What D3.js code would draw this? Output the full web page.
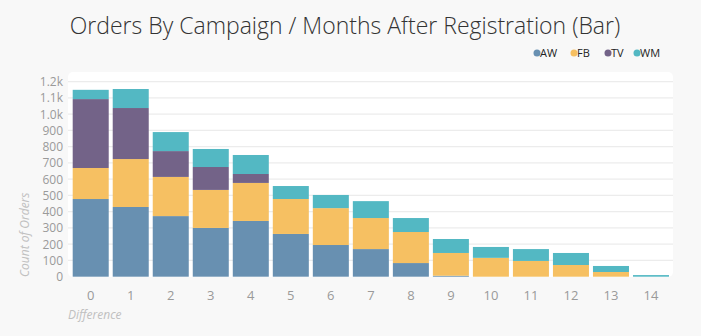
<!DOCTYPE html>
<html>
<head>
<meta charset="utf-8">
<script src="https://cdn.jsdelivr.net/npm/d3@7"></script>
<style>
  body { margin: 0; background: #f8f8f8; }
  svg { display: block; font-family: "Open Sans", sans-serif; }
</style>
</head>
<body>
<div id="chart"></div>
<script>
/* Stacked bars: orders by campaign per month after registration */

const months = ["0", "1", "2", "3", "4", "5", "6", "7", "8", "9", "10", "11", "12", "13", "14"];
const campaigns = ["AW", "FB", "TV", "WM"];
const aw = [478, 429, 373, 300, 343, 263, 195, 170, 84, 6, 0, 0, 0, 0, 0];
const fb = [191, 295, 241, 234, 234, 215, 227, 191, 191, 140, 116, 97, 72, 29, 0];
const tv = [424, 314, 159, 141, 55, 0, 0, 0, 0, 0, 0, 0, 0, 0, 0];
const wm = [57, 117, 117, 111, 117, 80, 81, 104, 86, 86, 67, 73, 74, 37, 10];
const yTicks = [0, 100, 200, 300, 400, 500, 600, 700, 800, 900, 1000, 1100, 1200];
const colors = ["#6890b1", "#f6c062", "#736388", "#53b8c3"];

const width = 701, height = 336;

const rows = months.map((m, i) => ({ month: m, AW: aw[i], FB: fb[i], TV: tv[i], WM: wm[i] }));
const series = d3.stack().keys(campaigns)(rows);

const x = d3.scaleBand()
    .domain(months)
    .range([70.7, 671])
    .paddingInner(0.1)
    .paddingOuter(0.05);

const y = d3.scaleLinear()
    .domain([0, 1200])
    .range([276.7, 81.7]);

const color = d3.scaleOrdinal().domain(campaigns).range(colors);

const svg = d3.select("#chart")
    .append("svg")
    .attr("width", width)
    .attr("height", height);

// title
svg.append("text")
    .attr("x", 345)
    .attr("y", 34)
    .attr("text-anchor", "middle")
    .attr("font-size", 23)
    .attr("font-weight", 300)
    .attr("fill", "#333")
    .text("Orders By Campaign / Months After Registration (Bar)");

// legend
const legendX = [537, 574, 608, 637];
const legend = svg.append("g")
    .selectAll("g")
    .data(campaigns)
    .join("g")
    .attr("transform", (d, i) => `translate(${legendX[i]},53)`);
legend.append("circle")
    .attr("r", 3.5)
    .attr("fill", d => color(d));
legend.append("text")
    .attr("x", 3)
    .attr("dy", "0.35em")
    .attr("font-size", 11)
    .attr("fill", "#222")
    .text(d => d);

// plot background
svg.append("rect")
    .attr("x", 68)
    .attr("y", 72)
    .attr("width", 605)
    .attr("height", 205)
    .attr("rx", 5)
    .attr("fill", "#fff");

// grid lines
svg.append("g")
    .selectAll("line")
    .data(yTicks.slice(1))
    .join("line")
    .attr("x1", 68)
    .attr("x2", 673)
    .attr("y1", d => y(d))
    .attr("y2", d => y(d))
    .attr("stroke", "#ececec")
    .attr("stroke-width", 1.2);

// bars
svg.append("g")
    .selectAll("g")
    .data(series)
    .join("g")
    .attr("fill", d => color(d.key))
    .selectAll("rect")
    .data(d => d.filter(s => s[1] > s[0]))
    .join("rect")
    .attr("x", d => x(d.data.month))
    .attr("width", x.bandwidth())
    .attr("y", d => y(d[1]))
    .attr("height", d => y(d[0]) - y(d[1]));

// y axis
const yAxis = svg.append("g")
    .attr("transform", "translate(65,0)")
    .call(d3.axisLeft(y).tickValues(yTicks).tickSize(0).tickPadding(2)
        .tickFormat(d => d >= 1000 ? d3.format(".1f")(d / 1000) + "k" : d));
yAxis.select(".domain").remove();
yAxis.selectAll("text")
    .attr("font-size", 12)
    .attr("font-family", "Open Sans, sans-serif")
    .attr("fill", "#9a9a9a");

// x axis
const xAxis = svg.append("g")
    .attr("transform", "translate(0,291)")
    .call(d3.axisBottom(x).tickSize(0).tickPadding(0));
xAxis.select(".domain").remove();
xAxis.selectAll("text")
    .attr("font-size", 13)
    .attr("font-family", "Open Sans, sans-serif")
    .attr("fill", "#9a9a9a");

// axis titles
svg.append("text")
    .attr("transform", "translate(29,277) rotate(-90)")
    .attr("font-size", 12)
    .attr("font-style", "italic")
    .attr("fill", "#c0c0c0")
    .text("Count of Orders");

svg.append("text")
    .attr("x", 68)
    .attr("y", 319)
    .attr("font-size", 12)
    .attr("font-style", "italic")
    .attr("fill", "#c0c0c0")
    .text("Difference");
</script>
</body>
</html>
